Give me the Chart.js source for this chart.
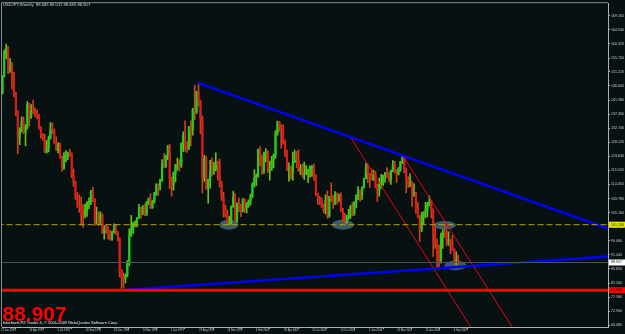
<!DOCTYPE html>
<html>
<head>
<meta charset="utf-8">
<title>USDJPY Weekly</title>
<style>
  html, body { margin: 0; padding: 0; background: #071111; overflow: hidden; }
  #wrap { width: 625px; height: 334px; position: relative; }
</style>
<script src="https://cdn.jsdelivr.net/npm/chart.js@4.4.1/dist/chart.umd.min.js"></script>
</head>
<body>
<div id="wrap"><canvas id="chart"></canvas></div>
<script>
// ── Data (monthly candles, Jan 1990 – Nov 2009) ──
const START_YEAR = 1990;

const monthOpen = [
  143.4,144.3,149.6,157.3,159.0,151.8,152.8,147.4,144.0,137.8,129.8,132.3, // 1990
  135.0,131.5,133.0,140.5,136.5,138.5,138.0,137.3,137.0,132.8,130.7,129.5, // 1991
  125.0,126.2,129.5,132.5,132.0,128.2,125.7,127.3,123.0,119.7,123.5,124.0, // 1992
  124.8,124.3,117.3,115.3,110.8,107.2,107.0,104.8,104.3,106.2,108.3,108.8, // 1993
  111.8,109.5,102.5,102.8,101.8,104.5,98.5,100.0,99.8,98.5,96.8,98.9,      // 1994
  99.7,99.0,96.9,86.5,84.2,83.5,84.8,88.5,97.5,99.7,101.9,101.9,           // 1995
  103.5,106.9,104.9,107.2,104.6,108.5,109.6,106.8,108.8,111.4,114.0,113.6, // 1996
  116.0,121.2,120.3,123.9,126.9,116.2,114.4,118.1,120.7,120.7,120.5,127.6, // 1997
  130.5,127.0,126.2,133.3,132.3,138.8,138.3,144.7,141.5,135.8,116.4,122.9, // 1998
  113.1,116.0,119.2,118.9,119.5,121.3,120.9,114.6,109.9,106.0,104.6,102.1, // 1999
  102.2,107.2,110.2,102.9,108.1,107.7,106.0,109.6,106.7,108.0,109.0,110.5, // 2000
  114.4,116.6,117.3,125.6,123.5,118.9,124.7,125.0,118.8,119.4,122.4,123.9, // 2001
  131.0,134.7,133.4,132.7,128.4,124.0,119.3,119.6,118.3,121.8,122.5,122.4, // 2002
  118.8,119.9,117.6,118.1,119.0,119.3,119.8,120.5,116.8,111.4,109.9,109.6, // 2003
  107.2,105.9,109.2,104.2,110.4,110.1,108.8,111.4,109.5,110.1,105.8,103.2, // 2004
  102.6,103.6,104.6,107.1,105.0,108.5,110.9,112.5,111.0,113.4,116.3,119.8, // 2005
  117.8,117.2,115.9,117.7,113.9,112.6,114.4,114.6,117.4,118.1,116.9,115.8, // 2006
  119.0,120.7,118.5,117.8,119.6,121.7,123.2,119.0,115.8,114.8,115.3,111.2, // 2007
  111.7,106.4,103.9,99.7,103.9,105.5,106.2,107.9,108.8,106.0,98.5,95.5,    // 2008
  90.6,89.9,97.6,98.9,98.7,95.3,96.3,94.7,93.0,89.8,90.1                   // 2009
];

const monthHigh = [
  146.0,150.0,158.3,160.3,159.5,155.5,154.3,151.0,144.5,138.5,133.0,136.5,
  136.5,134.0,141.5,141.0,140.5,142.0,139.5,138.8,137.3,133.3,131.0,130.8,
  128.7,130.2,134.6,134.5,132.5,130.0,128.0,128.0,123.7,124.8,125.5,125.0,
  126.0,124.7,119.5,115.5,111.8,111.0,110.3,107.8,108.0,108.8,110.0,112.5,
  113.5,109.8,107.0,105.5,105.5,104.8,101.0,101.3,100.6,99.4,99.0,101.5,
  101.2,99.1,97.0,86.5,85.5,85.2,89.5,99.9,104.3,102.0,102.5,103.6,
  107.9,107.0,107.5,108.0,108.9,110.0,111.4,109.2,111.8,114.7,114.5,116.2,
  122.5,124.6,124.0,127.2,127.5,116.8,118.5,121.0,123.0,122.5,128.0,131.6,
  135.2,128.4,133.4,135.2,139.3,146.8,144.9,147.6,142.0,136.8,124.0,123.5,
  116.2,122.3,123.0,121.6,124.7,122.0,122.7,115.5,111.8,107.7,106.0,104.0,
  107.4,112.2,111.4,108.4,110.0,108.0,109.8,109.8,108.6,109.4,111.3,114.9,
  119.3,117.9,126.0,126.8,124.0,125.0,126.1,125.4,122.0,123.6,124.4,132.0,
  135.1,135.0,134.0,133.9,129.0,125.6,121.5,120.3,125.0,125.6,125.2,125.7,
  121.0,121.0,121.7,120.6,119.4,120.5,120.6,121.1,117.6,111.6,110.5,110.0,
  108.0,111.0,112.3,110.5,114.9,110.8,112.1,111.7,111.3,111.7,106.6,105.0,
  104.3,106.3,107.6,108.5,108.8,111.0,113.7,112.6,113.6,116.4,121.4,121.0,
  118.0,119.4,119.0,118.6,114.5,116.5,117.7,117.5,118.3,119.9,118.4,119.1,
  122.2,122.0,119.3,120.0,122.0,124.1,123.5,119.8,117.0,117.9,115.5,114.7,
  111.8,108.5,104.3,105.3,105.5,108.6,108.6,110.7,109.2,106.4,100.6,96.6,
  94.6,98.5,99.7,101.4,99.5,98.9,96.4,97.8,93.4,92.4,91.3
];

const monthLow = [
  143.3,144.0,149.5,155.5,150.5,151.0,145.5,143.0,136.8,124.5,127.4,131.5,
  131.0,127.0,132.5,133.5,136.0,137.5,136.5,135.8,132.5,129.5,128.8,124.8,
  124.6,125.0,129.2,131.0,127.8,125.5,124.7,123.0,118.7,119.3,121.8,122.5,
  123.5,116.6,113.8,109.5,106.9,105.3,101.2,100.4,103.5,104.0,106.5,107.8,
  108.8,101.0,101.5,101.0,101.4,98.4,96.5,98.5,96.5,96.2,96.1,98.5,
  98.0,95.9,84.2,79.8,80.8,82.2,84.3,87.8,97.5,98.4,100.5,100.5,
  103.3,103.3,104.5,104.2,104.3,107.8,106.5,106.6,108.3,110.8,110.8,112.6,
  115.4,119.8,120.0,122.5,113.0,110.6,112.5,115.2,119.0,118.8,120.0,125.2,
  125.2,124.9,125.8,127.0,130.5,135.5,137.5,140.0,131.0,111.6,115.4,112.8,
  108.3,113.2,117.1,117.7,118.8,115.9,113.6,109.2,103.7,103.7,101.4,101.3,
  101.4,106.9,102.5,101.9,105.5,103.9,105.4,105.3,105.1,107.0,107.6,110.0,
  113.5,114.0,116.8,120.5,117.7,118.0,121.8,118.3,115.8,119.0,119.9,122.9,
  130.4,131.8,126.3,127.6,123.5,118.9,115.5,116.2,115.8,121.5,119.9,118.6,
  117.6,116.8,116.0,117.5,115.0,116.8,117.0,115.8,110.8,107.8,107.9,106.8,
  105.1,104.8,103.4,103.6,108.9,106.6,107.8,108.0,108.8,105.5,102.2,101.9,
  101.7,103.0,103.3,104.1,104.4,106.7,109.4,108.9,109.5,113.2,116.2,115.0,
  113.4,115.9,115.7,113.3,108.9,110.6,113.2,114.0,115.1,116.6,115.2,114.4,
  118.5,118.1,115.1,117.5,118.7,121.2,118.2,111.6,113.4,113.7,107.2,110.5,
  104.9,103.5,95.8,99.0,101.5,103.5,103.8,107.3,103.5,90.9,93.5,87.1,
  87.1,88.7,93.5,97.0,94.4,94.5,91.8,92.8,88.2,88.0,88.1
];

const monthClose = [
  144.3,149.6,157.3,159.0,151.8,152.8,147.4,144.0,137.8,129.8,132.3,135.0,
  131.5,133.0,140.5,136.5,138.5,138.0,137.3,137.0,132.8,130.7,129.5,125.0,
  126.2,129.5,132.5,132.0,128.2,125.7,127.3,123.0,119.7,123.5,124.0,124.8,
  124.3,117.3,115.3,110.8,107.2,107.0,104.8,104.3,106.2,108.3,108.8,111.8,
  109.5,102.5,102.8,101.8,104.5,98.5,100.0,99.8,98.5,96.8,98.9,99.7,
  99.0,96.9,86.5,84.2,83.5,84.8,88.5,97.5,99.7,101.9,101.9,103.5,
  106.9,104.9,107.2,104.6,108.5,109.6,106.8,108.8,111.4,114.0,113.6,116.0,
  121.2,120.3,123.9,126.9,116.2,114.4,118.1,120.7,120.7,120.5,127.6,130.5,
  127.0,126.2,133.3,132.3,138.8,138.3,144.7,141.5,135.8,116.4,122.9,113.1,
  116.0,119.2,118.9,119.5,121.3,120.9,114.6,109.9,106.0,104.6,102.1,102.2,
  107.2,110.2,102.9,108.1,107.7,106.0,109.6,106.7,108.0,109.0,110.5,114.4,
  116.6,117.3,125.6,123.5,118.9,124.7,125.0,118.8,119.4,122.4,123.9,131.0,
  134.7,133.4,132.7,128.4,124.0,119.3,119.6,118.3,121.8,122.5,122.4,118.8,
  119.9,117.6,118.1,119.0,119.3,119.8,120.5,116.8,111.4,109.9,109.6,107.2,
  105.9,109.2,104.2,110.4,110.1,108.8,111.4,109.5,110.1,105.8,103.2,102.6,
  103.6,104.6,107.1,105.0,108.5,110.9,112.5,111.0,113.4,116.3,119.8,117.8,
  117.2,115.9,117.7,113.9,112.6,114.4,114.6,117.4,118.1,116.9,115.8,119.0,
  120.7,118.5,117.8,119.6,121.7,123.2,119.0,115.8,114.8,115.3,111.2,111.7,
  106.4,103.9,99.7,103.9,105.5,106.2,107.9,108.8,106.0,98.5,95.5,90.6,
  89.9,97.6,98.9,98.7,95.3,96.3,94.7,93.0,89.8,90.1,88.907
];

// x axis: week index counted from the first weekly bar (21 Jan 1990)
const dateLabels = [
  '21 Jan 1990', '14 Apr 1991', '5 Jul 1992', '26 Sep 1993', '18 Dec 1994',
  '10 Mar 1996', '1 Jun 1997', '23 Aug 1998', '14 Nov 1999', '6 Feb 2001',
  '28 Apr 2002', '20 Jul 2003', '10 Oct 2004', '1 Jan 2006', '25 Mar 2007',
  '15 Jun 2008', '6 Sep 2009'
];
const DATE_STEP_WEEKS = 64;

const priceTicks = [
  68.480, 72.960, 77.580, 82.200, 86.820, 91.440, 96.060, 100.540, 105.160,
  109.780, 114.400, 119.020, 123.640, 128.120, 132.740, 137.360, 141.980,
  146.600, 151.220, 155.700, 160.320, 164.940, 169.560
];

// drawn objects: [week, price]
const supportLevel = 101.260;
const bidPrice     = 88.907;
const lowLevel     = 79.850;
const upperTrend   = [[445.6, 147.6], [1372.6, 100.0]];
const lowerTrend   = [[273.1, 79.85], [1372.6, 90.85]];
const channelLeft  = [[789.3, 130.1], [1078.2, 64.15]];
const channelRight = [[908.5, 123.8], [1172.5, 64.15]];
const markedZones  = [[515.3, 101.26], [773.0, 101.26], [1003.4, 101.1], [1027.8, 87.92]];

const headerText = 'USDJPY,Weekly  88.685 89.011 88.685 88.907';
const bigPrice   = '88.907';
const footerText = 'Interbank FX Trader 4, \u00a9 2001-2009 MetaQuotes Software Corp.';

// ── Scale geometry ───────────────────────────────────────────
const X_MIN = 2.5, X_MAX = 1372.6;
const Y_MIN = 67.83, Y_MAX = 173.64;

// ── Helpers ──────────────────────────────────────────────────
const WEEK_MS = 7 * 24 * 3600 * 1000;
const ORIGIN  = Date.UTC(1990, 0, 21);
function monthWeek(i) {
  return (Date.UTC(START_YEAR + Math.floor(i / 12), i % 12, 15) - ORIGIN) / WEEK_MS;
}
const pts = arr => arr.map(([x, y]) => ({ x, y }));
const hline = v => [{ x: X_MIN - 10, y: v }, { x: X_MAX + 10, y: v }];

// wick colours are a little olive, like the blended weekly bars
const WICK_UP = '#6cbd18', WICK_DOWN = '#c8421a';
const BODY_UP = '#1fcf1f', BODY_DOWN = '#de1a1a';
const isUp = monthClose.map((c, i) => c >= monthOpen[i]);
const wickColors = isUp.map(u => u ? WICK_UP : WICK_DOWN);
const bodyColors = isUp.map(u => u ? BODY_UP : BODY_DOWN);
const wickData = monthClose.map((c, i) => ({ x: monthWeek(i), y: [monthLow[i], monthHigh[i]] }));
const bodyData = monthClose.map((c, i) => ({ x: monthWeek(i), y: [monthOpen[i], c] }));

const FONT = '"Liberation Sans", Arial, sans-serif';
Chart.defaults.font.family = FONT;

function lineSet(data, color, width, dash) {
  return {
    type: 'line', data, borderColor: color, borderWidth: width,
    borderDash: dash || [], pointRadius: 0, fill: false, order: 0, tension: 0,
  };
}

// ── Plugins ──────────────────────────────────────────────────
const backdrop = {
  id: 'backdrop',
  beforeDraw(chart) {
    const { ctx, width, height, chartArea: a } = chart;
    ctx.save();
    ctx.fillStyle = '#071111';
    ctx.fillRect(0, 0, width, height);
    ctx.strokeStyle = '#8a8a8a';
    ctx.lineWidth = 1;
    ctx.beginPath();
    ctx.moveTo(a.left - 0.5, a.bottom);
    ctx.lineTo(a.left - 0.5, a.top - 0.5);
    ctx.lineTo(a.right, a.top - 0.5);
    ctx.stroke();
    ctx.restore();
  }
};

const ELLIPSE_RADII = [[9.5, 5], [11, 5], [11.3, 4.2], [11.2, 4.7]];
const zones = {
  id: 'zones',
  beforeDatasetsDraw(chart) {
    const { ctx, scales: { x, y } } = chart;
    ctx.save();
    ctx.fillStyle = 'rgba(72,104,122,0.85)';
    markedZones.forEach(([w, p], i) => {
      const [rx, ry] = ELLIPSE_RADII[i];
      ctx.beginPath();
      ctx.ellipse(x.getPixelForValue(w), y.getPixelForValue(p), rx, ry, 0, 0, Math.PI * 2);
      ctx.fill();
    });
    ctx.restore();
  }
};

const tags = [
  { value: supportLevel, bg: '#e8e800', fg: '#202000' },
  { value: bidPrice,     bg: '#ffffff', fg: '#202020' },
  { value: lowLevel,     bg: '#ff0000', fg: '#300000' },
];
const overlay = {
  id: 'overlay',
  afterDraw(chart) {
    const { ctx, chartArea: a, scales: { y } } = chart;
    ctx.save();
    // price tags on the right axis
    ctx.font = `3.6px ${FONT}`;
    ctx.textBaseline = 'middle';
    tags.forEach(t => {
      const py = y.getPixelForValue(t.value);
      ctx.fillStyle = t.bg;
      ctx.fillRect(a.right + 1, py - 3, 20, 6);
      ctx.fillStyle = t.fg;
      ctx.fillText(t.value.toFixed(3), a.right + 3, py);
    });
    // header
    ctx.textBaseline = 'alphabetic';
    ctx.fillStyle = '#d0d0d0';
    ctx.font = `4.2px ${FONT}`;
    ctx.fillText(headerText, 2.7, 6);
    // big price label
    ctx.fillStyle = '#ff0000';
    ctx.font = `bold 21px ${FONT}`;
    ctx.fillText(bigPrice, 2.5, 320.5);
    // footer
    ctx.fillStyle = '#eeeeee';
    ctx.font = `4px ${FONT}`;
    ctx.fillText(footerText, 2.7, 324);
    ctx.restore();
  }
};

// ── Chart ────────────────────────────────────────────────────
new Chart(document.getElementById('chart'), {
  type: 'bar',
  data: {
    datasets: [
      lineSet(hline(supportLevel), '#b8a400', 1, [6, 3]),
      lineSet(hline(bidPrice), '#4a545c', 1),
      lineSet(hline(lowLevel), '#ff0000', 3),
      lineSet(pts(upperTrend), '#0000ff', 2.5),
      lineSet(pts(lowerTrend), '#0000ff', 2.5),
      lineSet(pts(channelLeft), '#f00020', 1),
      lineSet(pts(channelRight), '#f00020', 1),
      {
        type: 'bar', data: wickData, backgroundColor: wickColors,
        barThickness: 1, grouped: false, borderWidth: 0, order: 2,
      },
      {
        type: 'bar', data: bodyData, backgroundColor: bodyColors,
        barThickness: 1.5, grouped: false, borderWidth: 0, order: 1,
      },
    ],
  },
  options: {
    responsive: true,
    maintainAspectRatio: false,
    animation: false,
    events: [],
    layout: { padding: { left: 2, top: 2, right: 0, bottom: 0 } },
    plugins: { legend: { display: false }, tooltip: { enabled: false } },
    scales: {
      x: {
        type: 'linear', min: X_MIN, max: X_MAX, offset: false,
        afterBuildTicks: s => { s.ticks = dateLabels.map((_, i) => ({ value: i * DATE_STEP_WEEKS })); },
        afterFit: s => { s.height = 7; },
        ticks: {
          callback: v => dateLabels[Math.round(v / DATE_STEP_WEEKS)],
          align: 'start', maxRotation: 0, autoSkip: false, padding: 0,
          color: '#c8c8c8', font: { size: 2.7 },
        },
        grid: { drawOnChartArea: false, tickLength: 2, color: '#b0b0b0' },
        border: { color: '#b0b0b0' },
      },
      y: {
        type: 'linear', position: 'right', min: Y_MIN, max: Y_MAX,
        afterBuildTicks: s => { s.ticks = priceTicks.map(v => ({ value: v })); },
        afterFit: s => { s.width = 17; },
        ticks: {
          callback: v => v.toFixed(3), autoSkip: false, padding: 1,
          color: '#c8c8c8', font: { size: 3.6 },
        },
        grid: { drawOnChartArea: false, tickLength: 2, color: '#b0b0b0' },
        border: { color: '#b0b0b0' },
      },
    },
  },
  plugins: [backdrop, zones, overlay],
});
</script>
</body>
</html>
